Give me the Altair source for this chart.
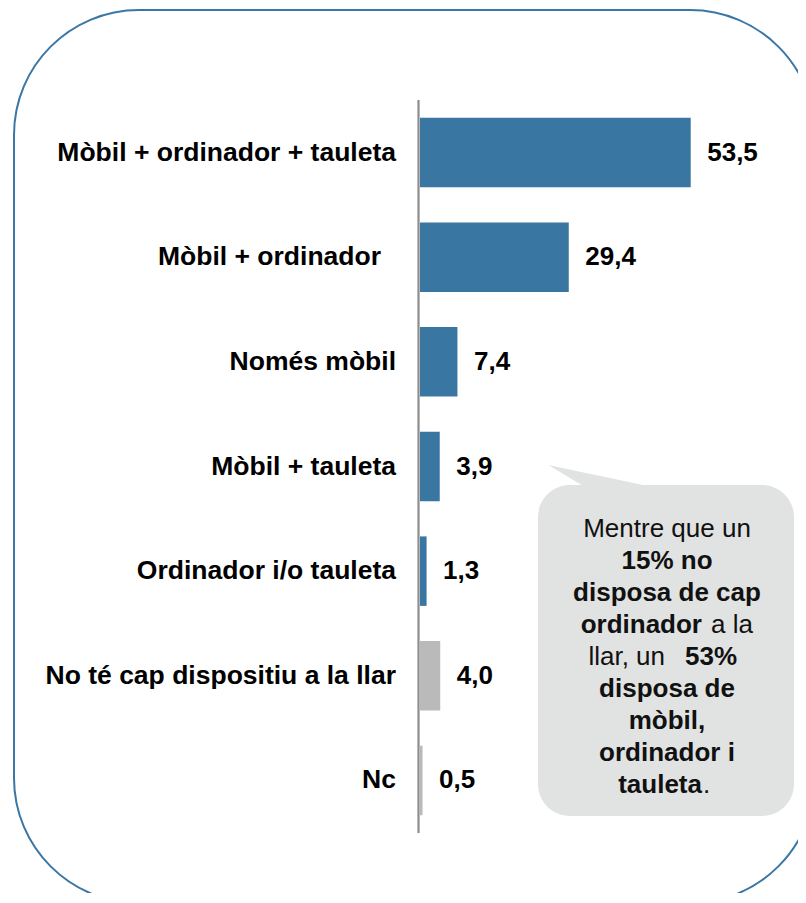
import altair as alt
import pandas as pd

# ---- data ----
categories = [
    "Mòbil + ordinador + tauleta",
    "Mòbil + ordinador",
    "Només mòbil",
    "Mòbil + tauleta",
    "Ordinador i/o tauleta",
    "No té cap dispositiu a la llar",
    "Nc",
]
values = [53.5, 29.4, 7.4, 3.9, 1.3, 4.0, 0.5]
value_labels = ["53,5", "29,4", "7,4", "3,9", "1,3", "4,0", "0,5"]
groups = ["dispositiu", "dispositiu", "dispositiu", "dispositiu", "dispositiu", "altres", "altres"]

callout_lines = [
    [("Mentre que un", "normal")],
    [("15% no", "bold")],
    [("disposa de cap", "bold")],
    [("ordinador", "bold"), ("a la", "normal")],
    [("llar, un", "normal"), ("53%", "bold")],
    [("disposa de", "bold")],
    [("mòbil,", "bold")],
    [("ordinador i", "bold")],
    [("tauleta", "bold"), (".", "normal")],
]

df = pd.DataFrame({"cat": categories, "value": values, "label": value_labels, "group": groups})
one = pd.DataFrame({"a": [0]})

BLUE = "#3a76a2"
GRAY = "#bababa"
FONT = "Liberation Sans"

W, H = 790, 885
K = 5.06
X0 = 412
xscale = alt.Scale(domain=[-X0 / K, (W - X0) / K], range=[0, W], nice=False, zero=False)
yscale = alt.Scale(domain=categories, range=[92.2, 824.8], paddingInner=0.336, paddingOuter=0.168)

border = alt.Chart(one).mark_rect(
    cornerRadius=125, fill="white", stroke="#3a77a5", strokeWidth=2
).encode(x=alt.value(6), x2=alt.value(807), y=alt.value(2), y2=alt.value(895))

# callout bubble
L, R, T, B, r = 530, 786, 477, 808, 32
path = (
    f"M{L + r},{T} L573.7,{T} L540.3,457 L635,{T} L{R - r},{T} "
    f"A{r},{r} 0 0 1 {R},{T + r} L{R},{B - r} A{r},{r} 0 0 1 {R - r},{B} "
    f"L{L + r},{B} A{r},{r} 0 0 1 {L},{B - r} L{L},{T + r} A{r},{r} 0 0 1 {L + r},{T} Z"
)
bubble = alt.Chart(one).mark_point(
    shape=path, size=4, filled=True, fill="#e1e2e2", opacity=1, strokeWidth=0
).encode(x=alt.value(0), y=alt.value(0))

axis_line = alt.Chart(one).mark_rule(color="#8c8c8c", strokeWidth=2.2).encode(
    x=alt.value(410.5), y=alt.value(92), y2=alt.value(825)
)

bars = alt.Chart(df).mark_bar().encode(
    x=alt.X("value:Q", scale=xscale, axis=None),
    x2=alt.datum(0),
    y=alt.Y("cat:N", scale=yscale, axis=None),
    color=alt.Color("group:N", scale=alt.Scale(domain=["dispositiu", "altres"], range=[BLUE, GRAY]), legend=None),
)

cat_base = alt.Chart(df).mark_text(
    align="right", baseline="middle", fontSize=26.5, fontWeight="bold", font=FONT, color="black"
)
cat_text = cat_base.encode(
    x=alt.value(388), y=alt.Y("cat:N", scale=yscale, axis=None), text="cat:N"
).transform_filter(alt.datum.cat != categories[1])
cat_text2 = cat_base.encode(
    x=alt.value(373), y=alt.Y("cat:N", scale=yscale, axis=None), text="cat:N"
).transform_filter(alt.datum.cat == categories[1])

val_text = alt.Chart(df).mark_text(
    align="left", baseline="middle", dx=16.5, fontSize=26, fontWeight="bold", font=FONT, color="black"
).encode(x=alt.X("value:Q", scale=xscale, axis=None), y=alt.Y("cat:N", scale=yscale, axis=None), text="label:N")

# callout text segments
CX = 659
split_pos = {3: (694, 703), 4: (657, 677), 8: (694, 695)}
callout_layers = []
for i, segs in enumerate(callout_lines):
    yb = 529 + 32 * i
    if len(segs) == 1:
        placements = [(segs[0], CX, "center")]
    else:
        xr, xl = split_pos[i]
        placements = [(segs[0], xr, "right"), (segs[1], xl, "left")]
    for (txt, wt), xx, al in placements:
        callout_layers.append(
            alt.Chart(one).mark_text(
                text=txt, align=al, baseline="alphabetic", fontSize=26, fontWeight=wt,
                font=FONT, color="#111111"
            ).encode(x=alt.value(xx), y=alt.value(yb))
        )

chart = alt.layer(border, bubble, axis_line, bars, cat_text, cat_text2, val_text, *callout_layers).properties(
    width=W, height=H, padding=0, background="white",
    autosize=alt.AutoSizeParams(type="none"),
).configure_view(stroke=None)

chart.save("out.html", embed_options={"renderer": "svg", "actions": False})
